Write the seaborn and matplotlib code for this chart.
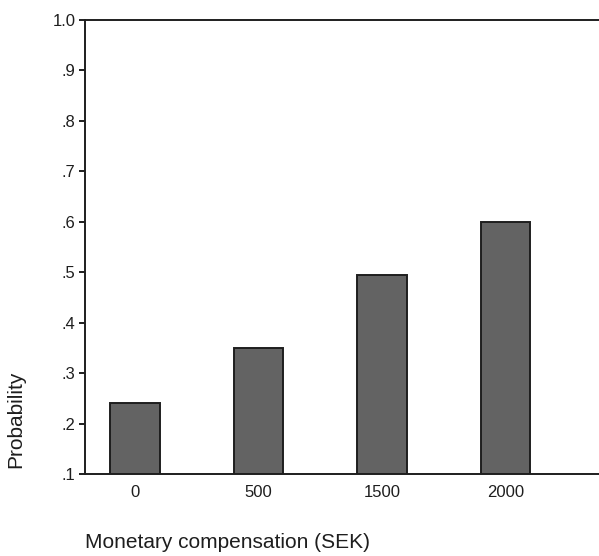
import matplotlib.pyplot as plt
import pandas as pd
import seaborn as sns

compensation = ["0", "500", "1500", "2000"]
probability = [0.24, 0.35, 0.495, 0.60]
ytick_values = [0.1, 0.2, 0.3, 0.4, 0.5, 0.6, 0.7, 0.8, 0.9, 1.0]
ytick_labels = [".1", ".2", ".3", ".4", ".5", ".6", ".7", ".8", ".9", "1.0"]

df = pd.DataFrame({"compensation": compensation, "probability": probability})

sns.set_theme(style="white")
plt.rcParams["font.family"] = ["Liberation Sans", "DejaVu Sans"]

fig = plt.figure(figsize=(5.99, 5.56), dpi=100)
ax = fig.add_axes([0.142, 0.1475, 0.858, 0.8165])

sns.barplot(
    data=df,
    x="compensation",
    y="probability",
    order=compensation,
    color="#636363",
    saturation=1,
    edgecolor="#1e1e1e",
    linewidth=1.4,
    width=0.4,
    ax=ax,
)

ax.set_ylim(0.1, 1.0)
ax.set_xlim(-0.405, 3.76)
ax.set_yticks(ytick_values)
ax.set_yticklabels(ytick_labels)

for side in ["left", "top", "bottom"]:
    ax.spines[side].set_color("#1e1e1e")
    ax.spines[side].set_linewidth(1.4)
ax.spines["right"].set_visible(False)

ax.tick_params(axis="y", which="major", left=True, length=4, width=1.4,
               color="#1e1e1e", pad=3, labelsize=12, labelcolor="#1e1e1e")
ax.tick_params(axis="x", length=0, pad=8, labelsize=12, labelcolor="#1e1e1e")

ax.set_xlabel("Monetary compensation (SEK)", loc="left", fontsize=15, color="#1e1e1e")
ax.xaxis.set_label_coords(0.0, -0.13)
ax.set_ylabel("Probability", loc="bottom", fontsize=15, color="#1e1e1e")
ax.yaxis.set_label_coords(-0.117, 0.013)

fig.savefig("out.png", dpi=100, facecolor="white")
